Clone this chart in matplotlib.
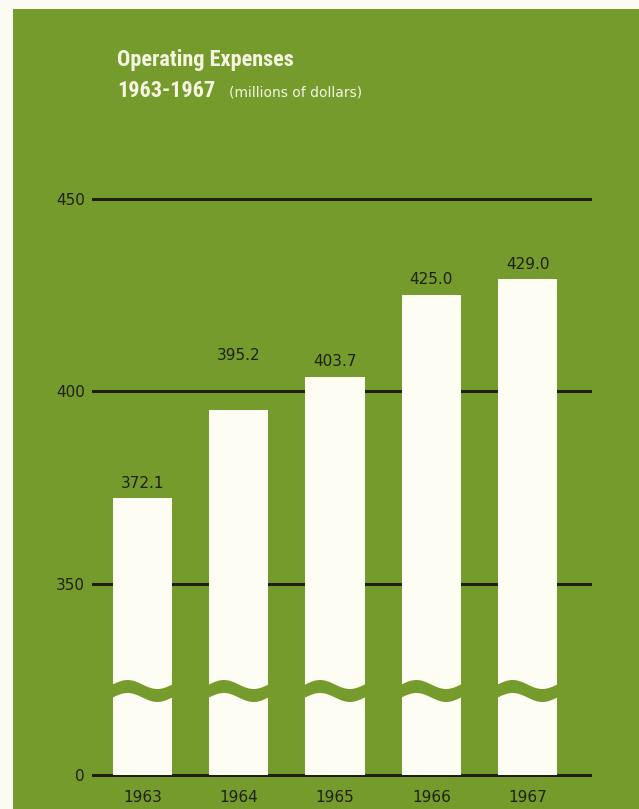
import numpy as np
import matplotlib
matplotlib.use("Agg")
import matplotlib.pyplot as plt
from matplotlib.patches import Rectangle, Polygon
from matplotlib.transforms import blended_transform_factory
from matplotlib import font_manager

# Operating expenses, millions of dollars
years = ["1963", "1964", "1965", "1966", "1967"]
expenses = [372.1, 395.2, 403.7, 425.0, 429.0]
grid_values = [0, 350, 400, 450]
grid_labels = ["0", "350", "400", "450"]

GREEN = "#759b2c"
CREAM = "#fdfdf4"
INK = "#1e2014"

# pick a narrow face for the headline if one is available
names = {f.name for f in font_manager.fontManager.ttflist}
narrow = None
for cand in ["Roboto Condensed", "Liberation Sans Narrow", "Open Sans Condensed",
             "DejaVu Sans Condensed"]:
    if cand in names:
        narrow = cand
        break

W, H = 639, 809
fig = plt.figure(figsize=(W / 100, H / 100), dpi=100, facecolor="#fbfbf4")

# green panel with a thin paper margin on the left and top
fig.patches.append(Rectangle((13 / W, 0), 1 - 13 / W, 1 - 9 / H,
                             transform=fig.transFigure, facecolor=GREEN,
                             edgecolor="none", zorder=-5))

# axis geometry in pixels
x0, x1 = 93, 590
y_zero, y_top = 775, 198.5
ax = fig.add_axes([x0 / W, 1 - y_zero / H, (x1 - x0) / W, (y_zero - y_top) / H])
ax.set_facecolor("none")
ax.set_zorder(2)

# broken value axis: 0..330 squeezed into a short stub below the main range
BREAK = 330.0
ZERO_POS = 300.3
def fwd(v):
    v = np.asarray(v, dtype=float)
    return np.where(v >= BREAK, v, ZERO_POS + v * (BREAK - ZERO_POS) / BREAK)
def inv(u):
    u = np.asarray(u, dtype=float)
    return np.where(u >= BREAK, u, (u - ZERO_POS) * BREAK / (BREAK - ZERO_POS))
ax.set_yscale("function", functions=(fwd, inv))
ax.set_ylim(0, 450)

xs = np.arange(len(years))
ax.set_xlim(-0.514, 4.649)
bar_w = 0.618

# horizontal rules behind the bars
for g in grid_values:
    ax.axhline(g, color=INK, lw=2.2, zorder=1, clip_on=False)

ax.bar(xs, expenses, width=bar_w, color=CREAM, edgecolor="none", zorder=2)

# wavy break band across each bar
tr = blended_transform_factory(ax.transData, ax.transAxes)
ax_h = y_zero - y_top
band_c = (y_zero - 691) / ax_h
band_half = 6.5 / ax_h
amp = 4.5 / ax_h
t = np.linspace(0, 1, 80)
for x in xs:
    xx = x - bar_w / 2 - 0.03 + t * (bar_w + 0.06)
    wave = amp * np.sin(2 * np.pi * (xx - (x - bar_w / 2)) / bar_w)
    top = band_c + band_half + wave
    bot = band_c - band_half + wave
    pts = np.column_stack([np.r_[xx, xx[::-1]], np.r_[top, bot[::-1]]])
    ax.add_patch(Polygon(pts, closed=True, transform=tr, facecolor=GREEN,
                         edgecolor="none", zorder=3))

# value labels above bars; a label that would sit on a rule is lifted above it
for x, v in zip(xs, expenses):
    anchor, off = v, 7.5
    for g in grid_values:
        if 0 < g - v < 8:
            anchor, off = g, 22
    ax.annotate(f"{v:.1f}", (x, anchor), xytext=(0, off), textcoords="offset points",
                ha="center", va="baseline", fontsize=11, color=INK,
                family="DejaVu Sans", zorder=4)

ax.set_yticks(grid_values)
ax.set_yticklabels(grid_labels)
ax.set_xticks(xs)
ax.set_xticklabels(years)
ax.tick_params(axis="y", length=0, pad=6, labelsize=11, labelcolor=INK)
ax.tick_params(axis="x", length=0, pad=11, labelsize=11, labelcolor=INK)
ax.yaxis.set_minor_locator(matplotlib.ticker.NullLocator())
for s in ax.spines.values():
    s.set_visible(False)

# title block
TITLE_C = "#f6f5e2"
head_kw = dict(family=narrow or "DejaVu Sans", fontweight="bold",
               fontsize=16 if narrow else 13, color=TITLE_C,
               va="baseline", ha="left")
fig.text(117 / W, 1 - 66 / H, "Operating Expenses", **head_kw)
fig.text(117 / W, 1 - 97 / H, "1963-1967", **head_kw)
fig.text(229 / W, 1 - 97 / H, "(millions of dollars)", fontsize=10,
         family="DejaVu Sans", color=TITLE_C, va="baseline", ha="left")

fig.savefig("out.png", dpi=100, facecolor=fig.get_facecolor())
